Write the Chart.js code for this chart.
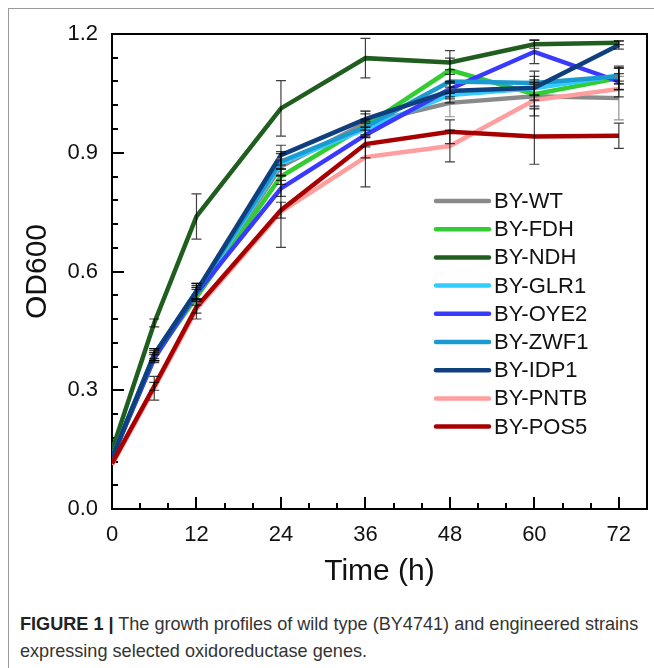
<!DOCTYPE html>
<html>
<head>
<meta charset="utf-8">
<script src="https://cdn.jsdelivr.net/npm/chart.js@4.4.1/dist/chart.umd.min.js"></script>
<style>
  body { margin: 0; background: #fff; }
  #wrap { position: relative; width: 654px; height: 668px; overflow: hidden; }
  #frame { position: absolute; left: 8px; top: 8px; width: 700px; height: 700px;
           border-left: 1px solid #9a9a9a; border-top: 1px solid #9a9a9a; }
  #c { position: absolute; left: 0; top: 0; }
  #caption { position: absolute; left: 20px; top: 611px; width: 640px; white-space: nowrap;
             font: 18.1px "Liberation Sans", Arial, sans-serif; line-height: 27px; color: #333; }
  #caption b { color: #222; }
</style>
</head>
<body>
<div id="wrap">
  <div id="frame"></div>
  <canvas id="c" width="654" height="600"></canvas>
  <div id="caption"><b>FIGURE 1 |</b> The growth profiles of wild type (BY4741) and engineered strains<br>expressing selected oxidoreductase genes.</div>
</div>
<script>
// --- Data ---
const hours = [0, 6, 12, 24, 36, 48, 60, 72];
const strains = ["BY-WT", "BY-FDH", "BY-NDH", "BY-GLR1", "BY-OYE2", "BY-ZWF1", "BY-IDP1", "BY-PNTB", "BY-POS5"];
const colors = ["#8a8a8a", "#33cc33", "#1f5e1f", "#33ccff", "#3a3aff", "#1a9ad0", "#0f3f7c", "#ff9e9e", "#a80000"];

const wt   = [0.13, 0.385, 0.540, 0.865, 0.975, 1.026, 1.043, 1.038];
const fdh  = [0.13, 0.385, 0.535, 0.840, 0.968, 1.109, 1.048, 1.089];
const ndh  = [0.148, 0.470, 0.739, 1.012, 1.139, 1.128, 1.174, 1.178];
const glr1 = [0.13, 0.390, 0.545, 0.873, 0.960, 1.046, 1.063, 1.095];
const oye2 = [0.13, 0.380, 0.545, 0.810, 0.945, 1.061, 1.155, 1.080];
const zwf1 = [0.13, 0.390, 0.550, 0.878, 0.965, 1.080, 1.076, 1.093];
const idp1 = [0.13, 0.390, 0.550, 0.894, 0.985, 1.056, 1.064, 1.172];
const pntb = [0.112, 0.305, 0.505, 0.751, 0.889, 0.917, 1.033, 1.061];
const pos5 = [0.115, 0.310, 0.510, 0.755, 0.922, 0.953, 0.941, 0.943];

// standard deviations (error bars)
const wtErr   = [0, 0.010, 0.020, 0.020, 0.030, 0.035, 0.030, 0.055];
const fdhErr  = [0, 0.010, 0.020, 0.020, 0.030, 0.030, 0.030, 0.030];
const ndhErr  = [0, 0.010, 0.057, 0.070, 0.050, 0.030, 0.010, 0.005];
const glr1Err = [0, 0.015, 0.020, 0.030, 0.020, 0.020, 0.030, 0.020];
const oye2Err = [0, 0.010, 0.015, 0.020, 0.030, 0.020, 0.030, 0.020];
const zwf1Err = [0, 0.015, 0.020, 0.020, 0.020, 0.030, 0.030, 0.020];
const idp1Err = [0, 0.010, 0.020, 0.025, 0.020, 0.020, 0.020, 0.010];
const pntbErr = [0, 0.030, 0.025, 0.090, 0.075, 0.040, 0.040, 0.020];
const pos5Err = [0, 0.010, 0.015, 0.020, 0.035, 0.030, 0.070, 0.032];

const xTicks = [0, 12, 24, 36, 48, 60, 72];
const yTicks = [0.0, 0.3, 0.6, 0.9, 1.2];
const xMinorStep = 4;
const yMinorStep = 0.06;

const series = [wt, fdh, ndh, glr1, oye2, zwf1, idp1, pntb, pos5];
const errors = [wtErr, fdhErr, ndhErr, glr1Err, oye2Err, zwf1Err, idp1Err, pntbErr, pos5Err];

const FONT = '"Liberation Sans", Arial, Helvetica, sans-serif';

// --- Plugins ---
// inward tick marks (major + minor) on the left and bottom axes
const innerTicks = {
  id: "innerTicks",
  beforeDatasetsDraw(chart) {
    const { ctx, chartArea: a, scales: { x, y } } = chart;
    ctx.save();
    ctx.strokeStyle = "#000";
    ctx.lineWidth = 2;
    ctx.beginPath();
    for (let v = 0; v <= 72 + 1e-9; v += xMinorStep) {
      const px = Math.round(x.getPixelForValue(v));
      const len = xTicks.includes(v) ? 12 : 6;
      ctx.moveTo(px, a.bottom);
      ctx.lineTo(px, a.bottom - len);
    }
    for (let i = 0; i * yMinorStep <= 1.2 + 1e-9; i++) {
      const v = i * yMinorStep;
      const py = Math.round(y.getPixelForValue(v));
      const len = i % 5 === 0 ? 12 : 6;
      ctx.moveTo(a.left, py);
      ctx.lineTo(a.left + len, py);
    }
    ctx.stroke();
    // top and right frame lines
    ctx.beginPath();
    ctx.moveTo(a.left, a.top);
    ctx.lineTo(a.right, a.top);
    ctx.lineTo(a.right, a.bottom);
    ctx.stroke();
    ctx.restore();
  }
};

// error bars from the error arrays
const errorBars = {
  id: "errorBars",
  afterDatasetsDraw(chart) {
    const { ctx, scales: { y } } = chart;
    ctx.save();
    ctx.lineWidth = 1.2;
    chart.data.datasets.forEach((ds, i) => {
      const meta = chart.getDatasetMeta(i);
      ctx.strokeStyle = i === 0 ? "rgba(120,120,120,0.8)" : "rgba(0,0,0,0.75)";
      meta.data.forEach((pt, j) => {
        const e = errors[i][j];
        if (!e) return;
        const v = ds.data[j].y;
        const top = y.getPixelForValue(v + e);
        const bot = y.getPixelForValue(v - e);
        ctx.beginPath();
        ctx.moveTo(pt.x, top); ctx.lineTo(pt.x, bot);
        ctx.moveTo(pt.x - 5, top); ctx.lineTo(pt.x + 5, top);
        ctx.moveTo(pt.x - 5, bot); ctx.lineTo(pt.x + 5, bot);
        ctx.stroke();
      });
    });
    ctx.restore();
  }
};

// legend drawn inside the plot area
const insideLegend = {
  id: "insideLegend",
  afterDraw(chart) {
    const { ctx, chartArea: a } = chart;
    ctx.save();
    ctx.font = "22px " + FONT;
    ctx.textBaseline = "middle";
    ctx.fillStyle = "#111";
    chart.data.datasets.forEach((ds, i) => {
      const yy = a.top + 167 + i * 28.2;
      ctx.strokeStyle = ds.borderColor;
      ctx.lineWidth = 4.5;
      ctx.lineCap = "round";
      ctx.beginPath();
      ctx.moveTo(a.left + 324, yy);
      ctx.lineTo(a.left + 377, yy);
      ctx.stroke();
      ctx.fillText(ds.label, a.left + 382, yy + 1);
    });
    ctx.restore();
  }
};

// --- Chart ---
const datasets = strains.map((name, i) => ({
  label: name,
  data: hours.map((h, j) => ({ x: h, y: series[i][j] })),
  borderColor: colors[i],
  backgroundColor: colors[i],
  borderWidth: 4.5,
  pointRadius: 0,
  tension: 0,
  order: strains.length - i
}));

new Chart(document.getElementById("c"), {
  type: "line",
  data: { datasets },
  options: {
    responsive: false,
    animation: false,
    layout: { padding: { top: 34, right: 7, left: 0, bottom: 0 } },
    plugins: { legend: { display: false }, tooltip: { enabled: false } },
    scales: {
      x: {
        type: "linear",
        min: 0,
        max: 76,
        afterBuildTicks: s => { s.ticks = xTicks.map(v => ({ value: v })); },
        afterFit: s => { s.height = 91; },
        grid: { display: false, drawTicks: false },
        border: { display: true, color: "#000", width: 2 },
        ticks: { font: { size: 22, family: FONT }, color: "#111", padding: 13, maxRotation: 0, autoSkip: false },
        title: { display: true, text: "Time (h)", font: { size: 30, family: FONT }, color: "#111", padding: { top: 0, bottom: 10 } }
      },
      y: {
        min: 0,
        max: 1.2,
        afterBuildTicks: s => { s.ticks = yTicks.map(v => ({ value: v })); },
        afterFit: s => { s.width = 112; },
        grid: { display: false, drawTicks: false },
        border: { display: true, color: "#000", width: 2 },
        ticks: { font: { size: 22, family: FONT }, color: "#111", padding: 14, callback: v => v.toFixed(1) },
        title: { display: true, text: "OD600", font: { size: 30, family: FONT }, color: "#111", padding: { top: 20, bottom: 0 } }
      }
    }
  },
  plugins: [innerTicks, errorBars, insideLegend]
});
</script>
</body>
</html>
